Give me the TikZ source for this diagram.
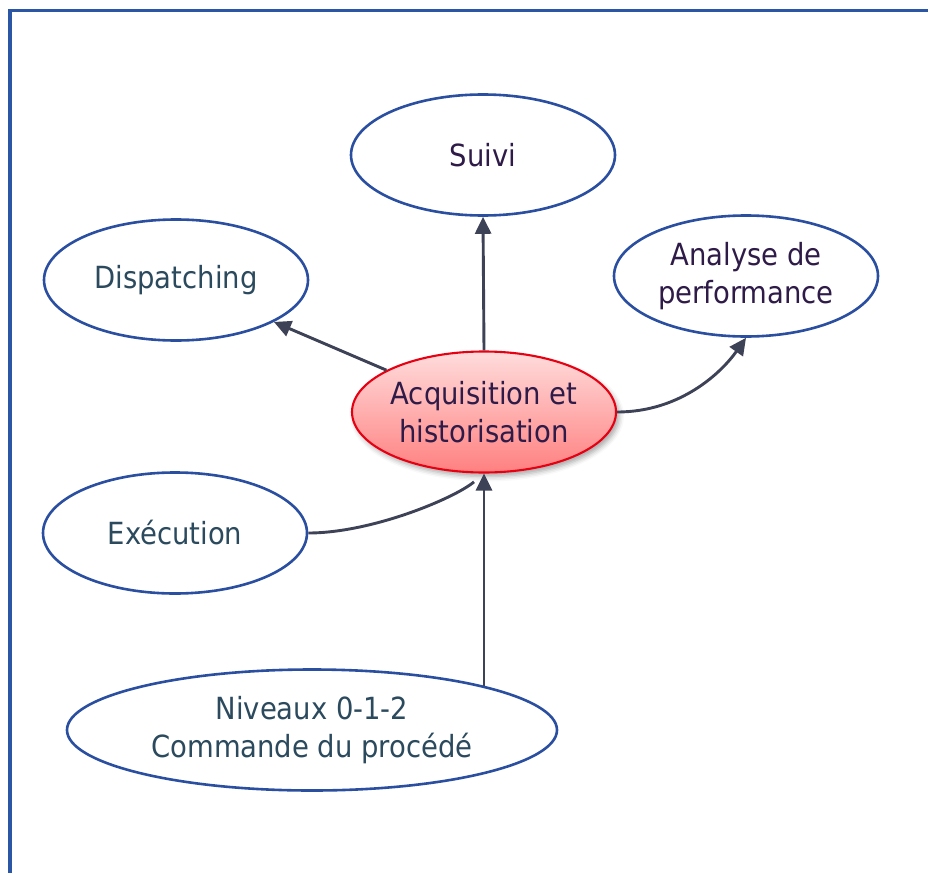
\documentclass[tikz,border=0pt]{standalone}
\usepackage{fontspec}
\setmainfont{DejaVu Sans Condensed}
\usetikzlibrary{shapes.geometric,arrows.meta,shadows.blur}
\definecolor{framec}{HTML}{2B56A5}
\definecolor{edgec}{HTML}{2B4FA0}
\definecolor{arrc}{HTML}{3E4256}
\definecolor{txtp}{HTML}{2E1B48}
\definecolor{txts}{HTML}{2B4A5E}
\definecolor{redtop}{HTML}{FFDCDC}
\definecolor{redbot}{HTML}{FF8080}
\definecolor{redline}{HTML}{E60012}
\begin{document}
\begin{tikzpicture}[x=1pt,y=-1pt,
  bubble/.style={ellipse, draw=edgec, line width=2.6pt, fill=white,
    minimum width=264pt, minimum height=121pt, inner sep=0pt,
    align=center, font=\fontsize{30.5}{37.5}\selectfont},
  purpletext/.style={text=txtp},
  slatetext/.style={text=txts},
  hub/.style={bubble, draw=redline, line width=2.1pt,
    top color=redtop, bottom color=redbot,
    blur shadow={shadow xshift=3pt, shadow yshift=-4pt,
      shadow blur radius=5pt, shadow opacity=35}},
  conn/.style={draw=arrc, line width=2.9pt,
    -{Triangle[length=17pt,width=16pt]}},
  plainconn/.style={draw=arrc, line width=2.9pt}]
\useasboundingbox (0,0) rectangle (928,872);

% outer frame (only the top and left sides fall inside the page)
\draw[framec, line width=3.2pt, line join=miter] (10,880) -- (10,10.7) -- (935,10.7);

% nodes
\node[hub, purpletext] (acq) at (484,412) {Acquisition et\\historisation};
\node[bubble, purpletext] (suivi) at (483,155) {Suivi};
\node[bubble, slatetext] (disp) at (176,280) {Dispatching};
\node[bubble, purpletext] (ana) at (746,276) {Analyse de\\performance};
\node[bubble, slatetext] (exe) at (175,533) {Exécution};
\node[bubble, slatetext, minimum width=490pt] (niv) at (312,730)
  {Niveaux 0-1-2\\Commande du procédé};

% connectors
\draw[conn] (acq.north) -- (suivi.south);
\draw[conn] (acq) -- (disp);
\draw[conn] (acq.east) .. controls +(64,0) and +(-24,34) .. (ana.south);
\draw[plainconn, shorten >=13pt] (exe.east) .. controls +(63,0) and +(-30,25) .. (acq.south);
\draw[conn] (niv.14 -| acq.south) -- (acq.south);
\end{tikzpicture}
\end{document}
